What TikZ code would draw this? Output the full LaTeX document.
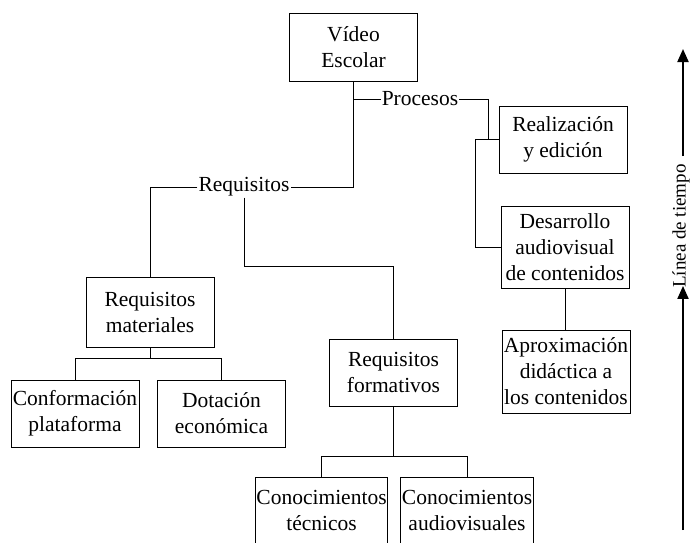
\documentclass[tikz,border=0pt]{standalone}
\usepackage{fontspec}
\setmainfont{Liberation Serif}
\usepackage{tikz}
\usetikzlibrary{
  arrows.meta,
  positioning,
  calc
}
\definecolor{veInk}{HTML}{000000}
\definecolor{vePaper}{HTML}{FFFFFF}
\tikzset{
  venode/.style={
    draw=veInk, line width=0.9pt, minimum width=128pt, minimum height=67pt,
    inner sep=1pt, align=center, font=\fontsize{21.5}{26}\selectfont
  },
  vebox/.style={venode, fill=vePaper},
  vetall/.style={venode, fill=vePaper, minimum height=82pt},
  velink/.style={line width=0.9pt, veInk},
  vetag/.style={inner sep=1pt, font=\fontsize{21.5}{26}\selectfont},
  timearrow/.style={-{Triangle[length=13pt, width=11pt]}, line width=2pt, veInk},
  timetag/.style={inner sep=1pt, rotate=90, font=\fontsize{19}{23}\selectfont}
}
\begin{document}
\begin{tikzpicture}[x=1pt, y=-1pt]
  \useasboundingbox (0,0) rectangle (690,542);

  % raiz
  \node[vebox, minimum height=68pt] (video) at (353.5,47) {Vídeo\\Escolar};

  % rama de procesos
  \node[vetag] (proclab) at (420,99) {Procesos};
  \node[vebox] (real) at (563,139.5) {Realización\\y edición};
  \node[vetall] (desa) at (565,247.5) {Desarrollo\\audiovisual\\de contenidos};
  \node[vetall, minimum height=83pt] (aprox) at (566,371.5) {Aproximación\\didáctica a\\los contenidos};

  % rama de requisitos
  \node[vetag] (reqlab) at (244,187) {Requisitos};
  \node[vebox, minimum height=70pt] (reqmat) at (150,312) {Requisitos\\materiales};
  \node[vebox] (conf) at (75,413.5) {Conformación\\plataforma};
  \node[vebox] (dota) at (221.5,413.5) {Dotación\\económica};
  \node[vebox] (reqform) at (393.5,372.5) {Requisitos\\formativos};
  \node[vebox] (ctec) at (321.5,510.5) {Conocimientos\\técnicos};
  \node[vebox] (caud) at (467,510.5) {Conocimientos\\audiovisuales};

  \coordinate (procjoin) at (488,139.5);
  \coordinate (reqbar) at (0,266);
  \coordinate (matbar) at (0,358);
  \coordinate (formbar) at (0,456);

  % conectores
  \draw[velink] (video.south) |- (reqlab.east);
  \draw[velink] (video.south |- proclab.west) -- (proclab.west);
  \draw[velink] (proclab.east) -| (procjoin);
  \draw[velink] (real.west) -- ++(-23,0) |- (desa.west);
  \draw[velink] (desa.south) -- (desa.south |- aprox.north);
  \draw[velink] (reqlab.west) -| (reqmat.north);
  \draw[velink] (reqlab.south) -- (reqlab.south |- reqbar) -| (reqform.north);
  \draw[velink] (reqmat.south) -- (reqmat.south |- matbar);
  \draw[velink] (reqmat.south |- matbar) -| (conf.north);
  \draw[velink] (reqmat.south |- matbar) -| (dota.north);
  \draw[velink] (reqform.south) -- (reqform.south |- formbar);
  \draw[velink] (reqform.south |- formbar) -| (ctec.north);
  \draw[velink] (reqform.south |- formbar) -| (caud.north);

  % linea de tiempo
  \node[timetag] (tiempo) at (681,226) {Línea de tiempo};
  \coordinate (tltop) at (683,49);
  \coordinate (tlbase) at (683,530);
  \draw[timearrow] (tiempo.east -| tltop) ++(0,-7) -- (tltop);
  \draw[timearrow] (tlbase) -- ($(tiempo.west -| tlbase)+(0,-3)$);
\end{tikzpicture}
\end{document}
